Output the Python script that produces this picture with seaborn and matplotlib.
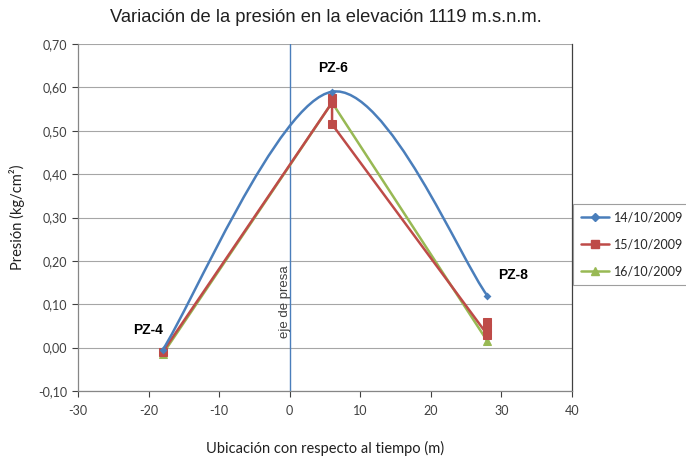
import numpy as np
import pandas as pd
import matplotlib
matplotlib.use("Agg")
import matplotlib.pyplot as plt
from matplotlib.path import Path
from matplotlib.patches import PathPatch
from matplotlib.lines import Line2D
import seaborn as sns

# Piezometer readings (distance from dam axis in m, pressure in kg/cm²)
fechas = ["14/10/2009", "15/10/2009", "16/10/2009"]
x_14 = [-18, 6, 28]
p_14 = [-0.005, 0.59, 0.12]
x_15 = [-18, 6, 6, 6, 28, 28, 28]
p_15 = [-0.01, 0.565, 0.575, 0.515, 0.03, 0.06, 0.045]
x_16 = [-18, 6, 28]
p_16 = [-0.015, 0.565, 0.015]

pozos = ["PZ-4", "PZ-6", "PZ-8"]
pozo_x = [-20.1, 6.1, 31.6]
pozo_y = [0.041, 0.645, 0.168]

x_ticks = [-30, -20, -10, 0, 10, 20, 30, 40]
y_ticks = [-0.10, 0.00, 0.10, 0.20, 0.30, 0.40, 0.50, 0.60, 0.70]

colores = ["#4a7ebb", "#be4b48", "#98b954"]
marcadores = ["D", "s", "^"]

sns.set_theme(style="white")
plt.rcParams["font.family"] = ["Lato", "DejaVu Sans"]
arial = ["Liberation Sans", "DejaVu Sans"]

fig = plt.figure(figsize=(6.86, 4.57), dpi=100)
ax = fig.add_axes([78 / 686, 1 - 391 / 457, (572 - 78) / 686, (391 - 44) / 457])

# Smoothed line for the first date (cubic Bezier through the readings)
pts = np.column_stack([x_14, p_14]).astype(float)
n = len(pts)
verts = [tuple(pts[0])]
codes = [Path.MOVETO]
for i in range(n - 1):
    prev_pt = pts[i - 1] if i > 0 else pts[i]
    next_pt = pts[i + 2] if i + 2 < n else pts[i + 1]
    c1 = pts[i] + (pts[i + 1] - prev_pt) / 6.0
    c2 = pts[i + 1] - (next_pt - pts[i]) / 6.0
    verts += [tuple(c1), tuple(c2), tuple(pts[i + 1])]
    codes += [Path.CURVE4] * 3
ax.add_patch(PathPatch(Path(verts, codes), facecolor="none",
                       edgecolor=colores[0], lw=1.8, zorder=3))
sns.scatterplot(x=x_14, y=p_14, ax=ax, marker="D", s=16, color=colores[0],
                edgecolor=colores[0], linewidth=0, zorder=3.5, legend=False)

df16 = pd.DataFrame({"x": x_16, "p": p_16})
sns.lineplot(data=df16, x="x", y="p", sort=False, estimator=None, ax=ax,
             color=colores[2], lw=1.8, marker="^", markersize=6,
             markeredgecolor=colores[2], zorder=2.6)
df15 = pd.DataFrame({"x": x_15, "p": p_15})
sns.lineplot(data=df15, x="x", y="p", sort=False, estimator=None, ax=ax,
             color=colores[1], lw=1.8, marker="s", markersize=6,
             markeredgecolor=colores[1], zorder=2.8)

# Dam axis
ax.axvline(0, color="#4a7ebb", lw=1.0, zorder=2)
ax.text(-0.7, 0.105, "eje de presa", rotation=90, ha="center", va="center",
        fontsize=9.5, color="#404040", family=arial)

for nombre, xx, yy in zip(pozos, pozo_x, pozo_y):
    ax.text(xx, yy, nombre, ha="center", va="center", fontsize=10,
            fontweight="bold", color="black", family=arial)

ax.set_xlim(-30, 40)
ax.set_ylim(-0.10, 0.70)
ax.set_xticks(x_ticks)
ax.set_yticks(y_ticks)
ax.set_xticklabels([str(v) for v in x_ticks])
ax.set_yticklabels([f"{v:.2f}".replace(".", ",") for v in y_ticks])
ax.tick_params(axis="both", labelsize=9, colors="#404040", length=4,
               width=0.8, direction="out", bottom=True, left=True)
ax.tick_params(axis="x", pad=6)
ax.grid(axis="y", color="#a6a6a6", lw=0.8)
ax.grid(axis="x", visible=False)
for side in ["left", "bottom"]:
    ax.spines[side].set_color("#868686")
    ax.spines[side].set_linewidth(0.9)
ax.spines["top"].set_visible(False)
ax.spines["right"].set_color("#404040")
ax.spines["right"].set_linewidth(0.9)

ax.set_xlabel("Ubicación con respecto al tiempo (m)", fontsize=10.5,
              color="#202020", labelpad=17)
ax.set_ylabel("Presión (kg/cm²)", fontsize=10.5, color="#202020", labelpad=10)

fig.text(326 / 686, 1 - 18 / 457, "Variación de la presión en la elevación 1119 m.s.n.m.",
         ha="center", va="center", fontsize=13.2, color="#202020", family=arial)

handles = [Line2D([], [], color=c, lw=1.8, marker=m, markersize=ms, markeredgecolor=c)
           for c, m, ms in zip(colores, marcadores, [4, 6, 6])]
leg = fig.legend(handles, fechas, loc="center left",
                 bbox_to_anchor=(573 / 686, 1 - 244 / 457), fontsize=9,
                 frameon=True, fancybox=False, edgecolor="#868686",
                 handlelength=2.3, handletextpad=0.4, labelspacing=1.2,
                 borderpad=0.6, borderaxespad=0)
leg.get_frame().set_linewidth(0.8)

fig.savefig("out.png", dpi=100)
